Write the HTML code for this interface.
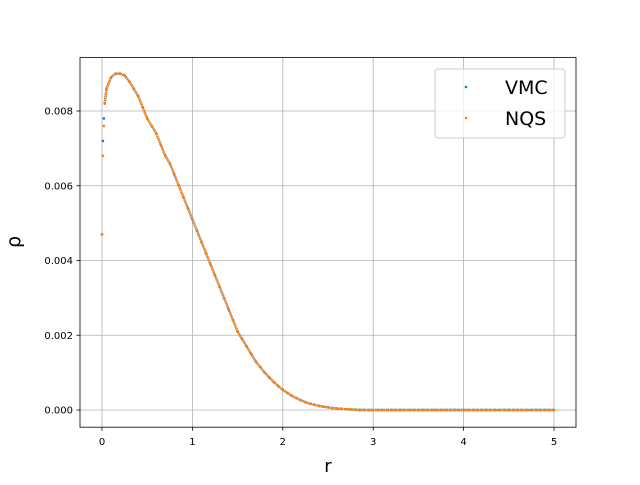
<!DOCTYPE html>
<html><head><meta charset="utf-8"><style>
body{margin:0;background:#fff}
svg{font-family:"DejaVu Sans","Liberation Sans",sans-serif}
</style></head><body>
<svg id="chart" width="640" height="480" viewBox="0 0 640 480" xmlns="http://www.w3.org/2000/svg">
<rect width="640" height="480" fill="#fff"/>
<g id="grid"></g>
<g id="series"></g>
<rect x="80" y="57.6" width="496" height="369.6" fill="none" stroke="#000" stroke-width="0.8"/>
<g id="axes"></g>
<text x="328" y="472" font-size="18" text-anchor="middle">r</text>
<text x="20" y="242" font-size="19" text-anchor="middle" transform="rotate(-90 20 242)">ρ</text>
<g>
<rect x="435" y="69" width="130" height="69" rx="3" fill="#fff" fill-opacity="0.8" stroke="#ccc"/>
<circle cx="466" cy="87" r="1.3" fill="#1f77b4"/>
<text x="505" y="94" font-size="19">VMC</text>
<circle cx="466" cy="118" r="1.3" fill="#ff7f0e"/>
<text x="505" y="125" font-size="19">NQS</text>
</g>
</svg>
<script>
const rStep = 0.05;
const vmcValues = [0.0047,0.0086,0.0089,0.0090,0.0090,0.00895,0.0088,0.0086,0.0084,0.0081,0.0078,0.0076,0.0074,0.0071,0.0068,0.0066,0.0063,0.0060,0.0057,0.0054,0.0051,0.0048,0.0045,0.0042,0.0039,0.0036,0.0033,0.0030,0.0027,0.0024,0.0021,0.0019,0.0017,0.0015,0.0013,0.00115,0.0010,0.00087,0.00075,0.00064,0.00054,0.00046,0.00038,0.00032,0.00026,0.00021,0.00017,0.00014,0.00011,0.00009,0.00007,0.00005,0.00004,0.00003,0.00002,0.000015,0.00001,0,0,0,0,0,0,0,0,0,0,0,0,0,0,0,0,0,0,0,0,0,0,0,0,0,0,0,0,0,0,0,0,0,0,0,0,0,0,0,0,0,0,0,0];
const nqsValues = [0.0047,0.0086,0.0089,0.0090,0.0090,0.00895,0.0088,0.0086,0.0084,0.0081,0.0078,0.0076,0.0074,0.0071,0.0068,0.0066,0.0063,0.0060,0.0057,0.0054,0.0051,0.0048,0.0045,0.0042,0.0039,0.0036,0.0033,0.0030,0.0027,0.0024,0.0021,0.0019,0.0017,0.0015,0.0013,0.00115,0.0010,0.00087,0.00075,0.00064,0.00054,0.00046,0.00038,0.00032,0.00026,0.00021,0.00017,0.00014,0.00011,0.00009,0.00007,0.00005,0.00004,0.00003,0.00002,0.000015,0.00001,0,0,0,0,0,0,0,0,0,0,0,0,0,0,0,0,0,0,0,0,0,0,0,0,0,0,0,0,0,0,0,0,0,0,0,0,0,0,0,0,0,0,0,0];
const earlyR = [0.01,0.02,0.03];
const vmcEarly = [0.0072,0.0078,0.0082];
const nqsEarly = [0.0068,0.0076,0.0082];
const xTicks = [0,1,2,3,4,5];
const yTicks = [0,0.002,0.004,0.006,0.008];
const yTickLabels = ["0.000","0.002","0.004","0.006","0.008"];

const NS="http://www.w3.org/2000/svg";
const X = r => 102 + r*90.4;
const Y = v => 410 - v*37375;
function mk(tag, attrs, parent){const e=document.createElementNS(NS,tag);for(const k in attrs)e.setAttribute(k,attrs[k]);parent.appendChild(e);return e;}
const grid=document.getElementById('grid'), axes=document.getElementById('axes'), series=document.getElementById('series');
xTicks.forEach(t=>{
  const l=mk('line',{x1:X(t),x2:X(t),y1:57.6,y2:427.2,stroke:'#b0b0b0','stroke-width':0.8},grid);
  
  const k=mk('line',{x1:X(t),x2:X(t),y1:427.2,y2:430.7,stroke:'#000','stroke-width':0.8},axes);
  
  const tx=mk('text',{x:X(t),y:445,'font-size':10,'text-anchor':'middle'},axes);tx.textContent=t;
  
});
yTicks.forEach((t,i)=>{
  const l=mk('line',{x1:80,x2:576,y1:Y(t),y2:Y(t),stroke:'#b0b0b0','stroke-width':0.8},grid);
  
  const k=mk('line',{x1:76.5,x2:80,y1:Y(t),y2:Y(t),stroke:'#000','stroke-width':0.8},axes);
  
  const tx=mk('text',{x:73,y:Y(t)+3.5,'font-size':10,'text-anchor':'end'},axes);tx.textContent=yTickLabels[i];
  
});
function drawSeries(vals, early, color, w, name){
  const pts=[];
  pts.push([X(0),Y(vals[0])]);
  early.forEach((v,i)=>pts.push([X(earlyR[i]),Y(v)]));
  vals.forEach((v,i)=>{ if(i>0) pts.push([X(i*rStep),Y(v)]); });
  const pl=mk('polyline',{points:pts.slice(3).map(p=>p.join(',')).join(' '),fill:'none',stroke:color,'stroke-width':w,'stroke-dasharray':'1.5 0.6'},series);
  
  pts.forEach(p=>{
    const c=mk('circle',{cx:p[0],cy:p[1],r:1.3,fill:color},series);
    
  });
}
drawSeries(vmcValues, vmcEarly, '#1f77b4', 2.4, 'vmc');
drawSeries(nqsValues, nqsEarly, '#ff7f0e', 2, 'nqs');
</script>
</body></html>
